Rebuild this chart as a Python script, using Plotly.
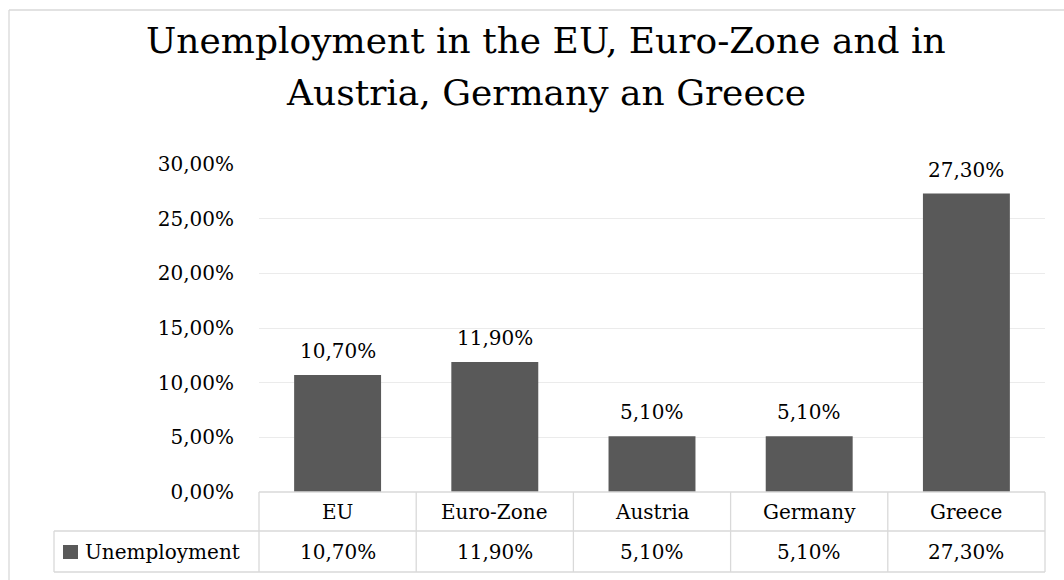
import plotly.graph_objects as go

# Unemployment rates (fractions) by region
categories = ["EU", "Euro-Zone", "Austria", "Germany", "Greece"]
unemployment = [0.107, 0.119, 0.051, 0.051, 0.273]
series_name = "Unemployment"
title_lines = ["Unemployment in the EU, Euro-Zone and in", "Austria, Germany an Greece"]

W, H = 1064, 580
PLOT_L, PLOT_R, PLOT_T, PLOT_B = 259, 1045, 164, 492
ROW1_B, ROW2_B = 531, 572
LEGEND_L = 54

FONT = "DejaVu Serif"
BAR_COLOR = "#595959"
BORDER = "#d9d9d9"
TEXT = "#000000"


def px_x(px):
    return (px - PLOT_L) / (PLOT_R - PLOT_L)


def px_y(py):
    return (PLOT_B - py) / (PLOT_B - PLOT_T)


def pct(v):
    return f"{v * 100:.2f}".replace(".", ",") + "%"


fig = go.Figure(
    go.Bar(
        x=categories,
        y=unemployment,
        marker=dict(color=BAR_COLOR, line=dict(width=0)),
        name=series_name,
        hoverinfo="skip",
    )
)

shapes = []
annotations = []

# Value labels above bars
for c, v in zip(categories, unemployment):
    annotations.append(dict(
        x=c, y=v, xref="x", yref="y", text=pct(v), showarrow=False,
        yanchor="bottom", yshift=10, font=dict(family=FONT, size=20, color=TEXT),
    ))

# Data table below the axis
line = dict(color=BORDER, width=1.3)
y_top, y_mid, y_bot = px_y(PLOT_B), px_y(ROW1_B), px_y(ROW2_B)
shapes.append(dict(type="line", xref="paper", yref="paper", x0=0, x1=1, y0=y_top, y1=y_top, line=line))
shapes.append(dict(type="line", xref="paper", yref="paper", x0=px_x(LEGEND_L), x1=1, y0=y_mid, y1=y_mid, line=line))
shapes.append(dict(type="line", xref="paper", yref="paper", x0=px_x(LEGEND_L), x1=1, y0=y_bot, y1=y_bot, line=line))
shapes.append(dict(type="line", xref="paper", yref="paper", x0=px_x(LEGEND_L), x1=px_x(LEGEND_L), y0=y_mid, y1=y_bot, line=line))
n = len(categories)
for i in range(n + 1):
    xb = i / n
    shapes.append(dict(type="line", xref="paper", yref="paper", x0=xb, x1=xb, y0=y_top, y1=y_bot, line=line))

row1_c = px_y((PLOT_B + ROW1_B) / 2)
row2_c = px_y((ROW1_B + ROW2_B) / 2)
for c, v in zip(categories, unemployment):
    annotations.append(dict(x=c, y=row1_c, xref="x", yref="paper", text=c, showarrow=False,
                            yanchor="middle", font=dict(family=FONT, size=20, color=TEXT)))
    annotations.append(dict(x=c, y=row2_c, xref="x", yref="paper", text=pct(v), showarrow=False,
                            yanchor="middle", font=dict(family=FONT, size=20, color=TEXT)))

# Legend key in table row header
shapes.append(dict(type="rect", xref="paper", yref="paper", x0=px_x(63), x1=px_x(78),
                   y0=px_y(559), y1=px_y(545), fillcolor=BAR_COLOR, line=dict(width=0)))
annotations.append(dict(x=px_x(83), y=row2_c, xref="paper", yref="paper", text=series_name,
                        showarrow=False, xanchor="left", yanchor="middle",
                        font=dict(family=FONT, size=20, color=TEXT)))

# Chart frame
shapes.append(dict(type="line", xref="paper", yref="paper", x0=px_x(9), x1=px_x(1100),
                   y0=px_y(10), y1=px_y(10), line=dict(color=BORDER, width=1.3)))
shapes.append(dict(type="line", xref="paper", yref="paper", x0=px_x(9), x1=px_x(9),
                   y0=px_y(10), y1=px_y(600), line=dict(color=BORDER, width=1.3)))

# Title
for text, cy in zip(title_lines, [40, 92]):
    annotations.append(dict(x=px_x(546), y=px_y(cy), xref="paper", yref="paper", text=text,
                            showarrow=False, xanchor="center", yanchor="middle",
                            font=dict(family=FONT, size=36, color=TEXT)))

fig.update_layout(
    width=W, height=H, autosize=False,
    margin=dict(l=PLOT_L, r=W - PLOT_R, t=PLOT_T, b=H - PLOT_B, pad=0),
    paper_bgcolor="white", plot_bgcolor="white",
    separators=", ",
    showlegend=False,
    bargap=0.447,
    font=dict(family=FONT, size=20, color=TEXT),
    xaxis=dict(showticklabels=False, showgrid=False, zeroline=False, showline=False, ticks=""),
    yaxis=dict(range=[0, 0.30], dtick=0.05, tickformat=".2%", showgrid=True, gridcolor="#ebebeb",
               gridwidth=1.3, zeroline=False, showline=False, ticks="", ticklabelstandoff=24,
               tickfont=dict(family=FONT, size=20, color=TEXT)),
    shapes=shapes,
    annotations=annotations,
)

fig.write_html("out.html")
